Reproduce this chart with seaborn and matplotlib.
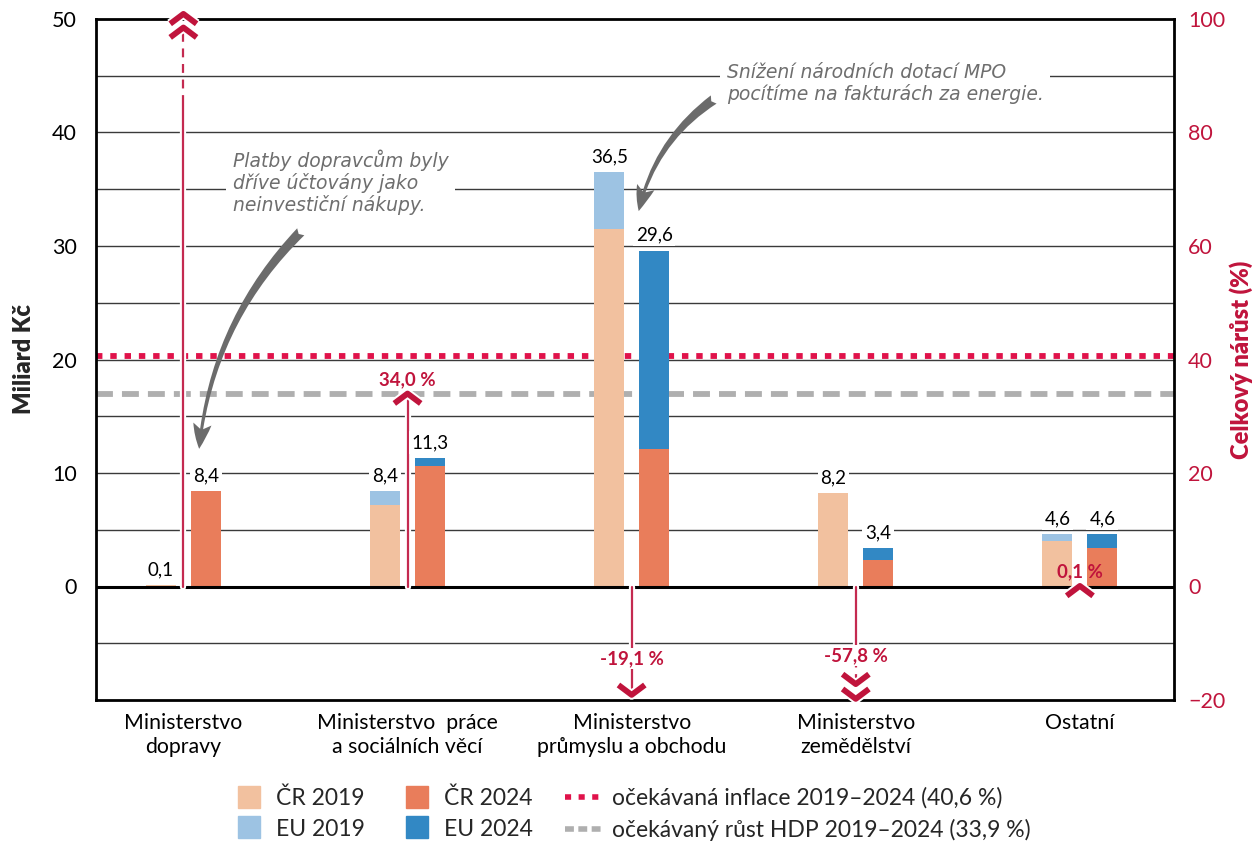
import numpy as np
import pandas as pd
import matplotlib
matplotlib.use("Agg")
import matplotlib.pyplot as plt
import seaborn as sns
from matplotlib.path import Path
from matplotlib.lines import Line2D
from matplotlib.patches import FancyArrowPatch
import matplotlib.patheffects as pe

# ---------------- data ----------------
categories = ["Ministerstvo\ndopravy", "Ministerstvo  práce\na sociálních věcí",
              "Ministerstvo\nprůmyslu a obchodu", "Ministerstvo\nzemědělství", "Ostatní"]
cr_2019 = [0.1, 7.2, 31.5, 8.2, 4.0]
eu_2019 = [0.0, 1.2, 5.0, 0.0, 0.6]
cr_2024 = [8.4, 10.6, 12.1, 2.3, 3.4]
eu_2024 = [0.0, 0.7, 17.5, 1.1, 1.2]
total_2019 = [0.1, 8.4, 36.5, 8.2, 4.6]
total_2024 = [8.4, 11.3, 29.6, 3.4, 4.6]
growth_pct = [8300.0, 34.0, -19.1, -57.8, 0.1]
inflation_pct = 40.6
gdp_pct = 33.9
left_ticks = [0, 10, 20, 30, 40, 50]
right_ticks = [-20, 0, 20, 40, 60, 80, 100]

# ---------------- style ----------------
C_CR19 = "#F2C19F"
C_EU19 = "#9DC3E3"
C_CR24 = "#E97D5B"
C_EU24 = "#3288C4"
C_RED = "#C0143C"
C_LINE = "#C42A50"
C_INF = "#E0124A"
C_GDP = "#AFAFAF"
C_NOTE = "#6E6E6E"

sns.set_theme(style="white")
plt.rcParams["font.family"] = ["Lato", "DejaVu Sans"]

fig = plt.figure(figsize=(12.6, 8.46), dpi=100)
ax = fig.add_axes([96 / 1260, 1 - 700 / 846, (1174 - 96) / 1260, (700 - 19) / 846])

years = ["2019", "2024"]
df_tot = pd.DataFrame({
    "cat": categories * 2,
    "year": ["2019"] * 5 + ["2024"] * 5,
    "val": total_2019 + total_2024,
})
df_cr = pd.DataFrame({
    "cat": categories * 2,
    "year": ["2019"] * 5 + ["2024"] * 5,
    "val": cr_2019 + cr_2024,
})

sns.barplot(data=df_tot, x="cat", y="val", hue="year", hue_order=years,
            palette=[C_EU19, C_EU24], width=0.4, gap=0.33, saturation=1,
            legend=False, ax=ax, zorder=3, errorbar=None, linewidth=0)
sns.barplot(data=df_cr, x="cat", y="val", hue="year", hue_order=years,
            palette=[C_CR19, C_CR24], width=0.4, gap=0.33, saturation=1,
            legend=False, ax=ax, zorder=3, errorbar=None, linewidth=0)

ax.set_xlim(-0.39, 4.42)
ax.set_ylim(-10, 50)
ax.set_yticks(left_ticks)
for y in np.arange(-5, 50, 5):
    ax.axhline(y, color="#3a3a3a", lw=1.0, zorder=0)
ax.axhline(0, color="black", lw=2.2, zorder=4)
for s in ax.spines.values():
    s.set_color("black")
    s.set_linewidth(2)
ax.tick_params(axis="y", length=0, labelsize=15.5, pad=14, colors="black")
ax.tick_params(axis="x", length=0, labelsize=15.3, pad=9, colors="black")
ax.set_xlabel("")
ax.set_ylabel("Miliard Kč", fontsize=17, fontweight="heavy", labelpad=12)
for lab in ax.get_xticklabels():
    lab.set_linespacing(1.25)

# value labels
def fmt(v):
    return f"{v:.1f}".replace(".", ",")

for i in range(5):
    for off, v in ((-0.1, total_2019[i]), (0.1, total_2024[i])):
        ax.annotate(fmt(v), (i + off, v), xytext=(0, 5), textcoords="offset points",
                    ha="center", va="bottom", fontsize=13.5, color="black", zorder=6,
                    bbox=dict(boxstyle="square,pad=0.15", fc="white", ec="none"))

# right axis
ax2 = ax.twinx()
ax2.set_ylim(-20, 100)
ax2.set_yticks(right_ticks)
ax2.tick_params(axis="y", length=0, labelsize=15.5, pad=10, colors=C_RED)
ax2.set_ylabel("Celkový nárůst (%)", fontsize=17, fontweight="heavy", color=C_RED, labelpad=3)
for s in ax2.spines.values():
    s.set_visible(False)
ax2.grid(False)

ax.set_zorder(2)
ax2.set_zorder(1)
ax.patch.set_visible(False)
ax2.axhline(inflation_pct, color=C_INF, lw=4.2, linestyle=(0, (1.1, 1.35)), zorder=1)
ax2.axhline(gdp_pct, color=C_GDP, lw=4.2, linestyle=(0, (2.9, 1.55)), zorder=1)

# growth arrows (drawn on the main axes, converted from % to its units)
up_marker = Path([(-1, -0.75), (0, 0), (1, -0.75)], [Path.MOVETO, Path.LINETO, Path.LINETO])
dn_marker = Path([(-1, 0.75), (0, 0), (1, 0.75)], [Path.MOVETO, Path.LINETO, Path.LINETO])
halo = [pe.Stroke(linewidth=7, foreground="white"), pe.Normal()]
line_halo = [pe.Stroke(linewidth=4.5, foreground="white"), pe.Normal()]
to_left = lambda p: p / 2.0
top_lim, bot_lim = 100, -20
mk_kw = dict(markersize=19, mfc="none", mec=C_RED, mew=4.2, linestyle="none",
             zorder=7, clip_on=False, path_effects=halo)
lab_kw = dict(textcoords="offset points", ha="center", va="center", fontsize=13.5,
              fontweight="bold", color=C_RED, zorder=8)
white_box = dict(boxstyle="square,pad=0.1", fc="white", ec="none")

for i, g in enumerate(growth_pct):
    x = i
    if g > top_lim:
        tips = (top_lim + 0.9, top_lim - 1.5)
        brk = 85
        ax.plot([x, x], [0, to_left(brk)], color=C_LINE, lw=1.6, zorder=5, path_effects=line_halo)
        ax.plot([x, x], [to_left(brk), to_left(tips[1] - 1)], color=C_LINE, lw=1.6,
                linestyle=(0, (4, 3)), zorder=5, path_effects=line_halo)
        for t in tips:
            ax.plot([x], [to_left(t)], marker=up_marker, **mk_kw)
    elif g < bot_lim:
        tips = (bot_lim + 0.2, bot_lim + 2.8)
        brk = -10
        ax.plot([x, x], [0, to_left(brk)], color=C_LINE, lw=1.6, zorder=5, path_effects=line_halo)
        ax.plot([x, x], [to_left(brk), to_left(tips[1] + 1)], color=C_LINE, lw=1.6,
                linestyle=(0, (4, 3)), zorder=5, path_effects=line_halo)
        for t in tips:
            ax.plot([x], [to_left(t)], marker=dn_marker, **mk_kw)
        ax.annotate(fmt(g) + " %", (x, to_left(tips[0])), xytext=(0, 31), bbox=white_box, **lab_kw)
    else:
        ax.plot([x, x], [0, to_left(g)], color=C_LINE, lw=1.6, zorder=5, path_effects=line_halo)
        mk = up_marker if g >= 0 else dn_marker
        ax.plot([x], [to_left(g)], marker=mk, **mk_kw)
        dy = 10 if g >= 0 else 26
        box = white_box if abs(g) >= 1 else None
        ax.annotate(fmt(g) + " %", (x, to_left(g)), xytext=(0, dy), bbox=box, **lab_kw)

# annotations
note_font = dict(fontsize=13.5, color=C_NOTE, style="oblique", family=["DejaVu Sans"],
                 ha="left", va="top", linespacing=1.12, zorder=9)
px2x = lambda px: (px - 182.5) / 224.5
py2y = lambda py: (587 - py) / 11.36
ax.text(px2x(232), py2y(150), "Platby dopravcům byly\ndříve účtovány jako\nneinvestiční nákupy.",
        bbox=dict(boxstyle="square,pad=0.35", fc="white", ec="none"), **note_font)
ax.text(px2x(727), py2y(63), "Snížení národních dotací MPO\npocítíme na fakturách za energie.",
        bbox=dict(boxstyle="square,pad=0.35", fc="white", ec="none"), **note_font)

arrow_kw = dict(arrowstyle="fancy,head_length=1.5,head_width=1.1,tail_width=0.6",
                color="#6B6B6B", lw=0, mutation_scale=12, zorder=9)
ax.add_patch(FancyArrowPatch((px2x(302), py2y(230)), (px2x(198), py2y(452)),
                             connectionstyle="arc3,rad=0.18", **arrow_kw))
ax.add_patch(FancyArrowPatch((px2x(716), py2y(98)), (px2x(638), py2y(214)),
                             connectionstyle="arc3,rad=0.2", **arrow_kw))

# legend
handles = [
    Line2D([], [], marker="s", linestyle="none", markersize=16, mfc=C_CR19, mec=C_CR19),
    Line2D([], [], marker="s", linestyle="none", markersize=16, mfc=C_EU19, mec=C_EU19),
    Line2D([], [], marker="s", linestyle="none", markersize=16, mfc=C_CR24, mec=C_CR24),
    Line2D([], [], marker="s", linestyle="none", markersize=16, mfc=C_EU24, mec=C_EU24),
    Line2D([], [], color=C_INF, lw=4, linestyle=(0, (1.1, 1.35))),
    Line2D([], [], color=C_GDP, lw=4, linestyle=(0, (1.6, 0.8))),
]
labels = ["ČR 2019", "EU 2019", "ČR 2024", "EU 2024",
          "očekávaná inflace 2019–2024 (40,6 %)", "očekávaný růst HDP 2019–2024 (33,9 %)"]
fig.legend(handles, labels, ncol=3, loc="lower center", bbox_to_anchor=(0.5, -0.018),
           frameon=False, fontsize=16.5, handlelength=1.7, handletextpad=0.35,
           columnspacing=1.4, labelspacing=0.42, numpoints=1)

fig.savefig("out.png", dpi=100)
